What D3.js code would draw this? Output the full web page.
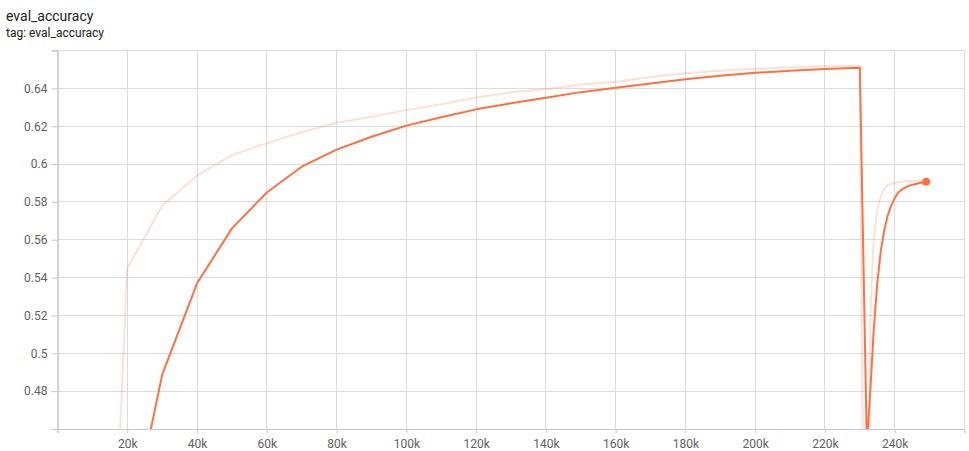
<!DOCTYPE html>
<html>
<head>
<meta charset="utf-8">
<script src="https://cdn.jsdelivr.net/npm/d3@7"></script>
<style>
  html, body { margin: 0; padding: 0; background: #fff; }
  svg { display: block; font-family: Roboto, "Noto Sans", sans-serif; }
</style>
</head>
<body>
<svg id="chart" width="969" height="451"></svg>
<script>
// ---- data ----
const titleText = "eval_accuracy";
const tagText = "tag: eval_accuracy";

const run1Steps = [10000, 20000, 30000, 40000, 50000, 60000, 70000, 80000, 90000, 100000,
  110000, 120000, 130000, 140000, 150000, 160000, 170000, 180000, 190000, 200000,
  210000, 220000, 230000];
const run1Raw = [0.13, 0.545, 0.578, 0.594, 0.6047, 0.611, 0.6168, 0.6218, 0.625, 0.6285,
  0.6316, 0.6352, 0.6379, 0.6395, 0.642, 0.6435, 0.646, 0.648, 0.6493, 0.6503,
  0.651, 0.6518, 0.652];
const run1Smoothed = [0.13, 0.40, 0.4886, 0.537, 0.566, 0.585, 0.5986, 0.6076, 0.6144, 0.6203,
  0.6247, 0.6289, 0.6321, 0.635, 0.638, 0.6403, 0.6426, 0.6448, 0.6467, 0.6482,
  0.6493, 0.6502, 0.6509];

const run2Steps = [232000, 233000, 234000, 235000, 236000, 237000, 238000, 239000, 240000,
  241000, 242000, 243000, 244000, 245000, 246000, 247000, 248000, 249000];
const run2Raw = [0.154, 0.5175, 0.561, 0.576, 0.583, 0.587, 0.589, 0.5895, 0.590,
  0.5905, 0.5905, 0.591, 0.591, 0.591, 0.5912, 0.5912, 0.5913, 0.5913];
const run2Smoothed = [0.452, 0.480, 0.513, 0.537, 0.554, 0.565, 0.573, 0.578, 0.582,
  0.585, 0.5865, 0.5875, 0.5885, 0.589, 0.5895, 0.590, 0.5903, 0.5906];

const xTicks = [20000, 40000, 60000, 80000, 100000, 120000, 140000, 160000, 180000, 200000, 220000, 240000];
const yTicks = [0.48, 0.5, 0.52, 0.54, 0.56, 0.58, 0.6, 0.62, 0.64];
const xDomain = [0, 260000];
const yDomain = [0.46, 0.66];

// ---- layout ----
const svg = d3.select("#chart");
const L = 57.5, R = 964.5, T = 50.5, B = 429;
const x = d3.scaleLinear().domain(xDomain).range([L, R]);
const y = d3.scaleLinear().domain(yDomain).range([B, T]);
const color = "#ff7043";

// title
svg.append("text").attr("x", 6).attr("y", 21).attr("font-size", 14).attr("fill", "#212121").text(titleText);
svg.append("text").attr("x", 6).attr("y", 37).attr("font-size", 12).attr("fill", "#212121").text(tagText);

// grid
const grid = svg.append("g").attr("stroke", "#dcdcdc").attr("stroke-width", 1).attr("shape-rendering", "crispEdges");
grid.selectAll("line.v").data(xTicks).join("line")
  .attr("x1", d => x(d)).attr("x2", d => x(d)).attr("y1", T).attr("y2", B);
grid.selectAll("line.h").data(yTicks).join("line")
  .attr("x1", L).attr("x2", R).attr("y1", d => y(d)).attr("y2", d => y(d));
grid.append("line").attr("x1", L).attr("x2", R).attr("y1", T).attr("y2", T);
grid.append("line").attr("x1", R).attr("x2", R).attr("y1", T).attr("y2", B + 4);

// axes
const xAxis = d3.axisBottom(x).tickValues([0].concat(xTicks)).tickSize(4).tickPadding(6)
  .tickFormat(d => d === 0 ? "" : (d / 1000) + "k");
const gx = svg.append("g").attr("transform", `translate(0,${B})`).call(xAxis);
gx.select(".domain").attr("stroke", "#c8c8c8");
gx.selectAll(".tick line").attr("stroke", "#c8c8c8");
gx.selectAll(".tick text").attr("font-size", 12).attr("fill", "#616161").attr("font-family", "Roboto, sans-serif");

const yAxis = d3.axisLeft(y).tickValues(yTicks.concat([0.46])).tickSize(6).tickPadding(4)
  .tickFormat(d => d === 0.46 ? "" : String(+d.toFixed(2)));
const gy = svg.append("g").attr("transform", `translate(${L},0)`).call(yAxis);
gy.select(".domain").attr("stroke", "#a8a8a8");
gy.selectAll(".tick line").attr("stroke", "#c8c8c8");
gy.selectAll(".tick text").attr("font-size", 12).attr("fill", "#616161").attr("font-family", "Roboto, sans-serif");

// clip
svg.append("defs").append("clipPath").attr("id", "plotclip")
  .append("rect").attr("x", L).attr("y", T - 6).attr("width", R - L + 6).attr("height", B - T + 6);

const plot = svg.append("g").attr("clip-path", "url(#plotclip)");
const line = d3.line().x(d => x(d[0])).y(d => y(d[1]));

const allSteps = run1Steps.concat(run2Steps);
const rawPts = allSteps.map((s, i) => [s, run1Raw.concat(run2Raw)[i]]);
const smPts = allSteps.map((s, i) => [s, run1Smoothed.concat(run2Smoothed)[i]]);

plot.append("path").datum(rawPts).attr("d", line)
  .attr("fill", "none").attr("stroke", color).attr("stroke-opacity", 0.22)
  .attr("stroke-width", 2).attr("stroke-linejoin", "round");
plot.append("path").datum(smPts).attr("d", line)
  .attr("fill", "none").attr("stroke", color)
  .attr("stroke-width", 2).attr("stroke-linejoin", "round");

const last = smPts[smPts.length - 1];
svg.append("circle").attr("cx", x(last[0])).attr("cy", y(last[1])).attr("r", 4).attr("fill", color);
</script>
</body>
</html>
